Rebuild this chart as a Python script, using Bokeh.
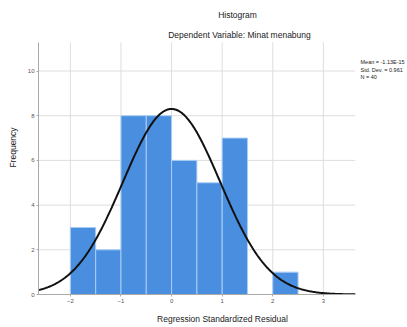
import numpy as np
from bokeh.plotting import figure
from bokeh.models import Label, FixedTicker, Range1d
from bokeh.embed import file_html
from bokeh.resources import INLINE

# Data
bin_left = [-2.0, -1.5, -1.0, -0.5, 0.0, 0.5, 1.0, 2.0]
counts = [3, 2, 8, 8, 6, 5, 7, 1]
bin_width = 0.5
mean = -1.13e-15
std_dev = 0.961
n_obs = 40
x_ticks = [-2, -1, 0, 1, 2, 3]
y_ticks = [0, 2, 4, 6, 8, 10]
title_main = "Histogram"
title_sub = "Dependent Variable: Minat menabung"
stats_lines = ["Mean = -1.13E-15", "Std. Dev. = 0.961", "N = 40"]

FONT = "Liberation Sans"
W, H = 406, 326
FL, FB = 38, 296          # frame left / bottom in page pixels
PX_X, PX_Y = 50.6, 22.5   # pixels per data unit
X0, XA = -2.63, 3.63      # plotted x extent (axis)
YA = 11.29                # plotted y extent (axis)
XE = X0 + (W - FL) / PX_X
YE = FB / PX_Y

p = figure(width=W, height=H, output_backend="svg", toolbar_location=None,
           x_range=Range1d(X0, XE), y_range=Range1d(0, YE),
           min_border_left=FL, min_border_right=0, min_border_top=0,
           min_border_bottom=H - FB)
p.outline_line_color = None
p.title.visible = False
p.xgrid.visible = False
p.ygrid.visible = False

# axes
for ax in (p.xaxis[0], p.yaxis[0]):
    ax.axis_line_color = "#aaaaaa"
    ax.major_tick_line_color = "#aaaaaa"
    ax.minor_tick_line_color = None
    ax.major_tick_out = 2
    ax.major_tick_in = 0
    ax.major_label_text_font = FONT
    ax.major_label_text_font_size = "6px"
    ax.major_label_text_color = "#555555"
    ax.major_label_standoff = 2
    ax.axis_label_text_font = FONT
    ax.axis_label_text_font_size = "8.5px"
    ax.axis_label_text_font_style = "normal"
    ax.axis_label_text_color = "#222222"
p.xaxis.ticker = FixedTicker(ticks=x_ticks)
p.yaxis.ticker = FixedTicker(ticks=y_ticks)
p.xaxis.bounds = (X0, XA)
p.yaxis.bounds = (0, YA)
p.xaxis.axis_label = "Regression Standardized Residual"
p.yaxis.axis_label = "Frequency"
p.xaxis.axis_label_standoff = 8
p.yaxis.axis_label_standoff = 7

# grid lines (drawn as segments so they stop at the plotted extent)
p.segment(x0=x_ticks, x1=x_ticks, y0=[0] * len(x_ticks), y1=[YA] * len(x_ticks),
          line_color="#dedede", line_width=1)
p.segment(x0=[X0] * len(y_ticks), x1=[XA] * len(y_ticks), y0=y_ticks, y1=y_ticks,
          line_color="#dedede", line_width=1)

# bars
lefts = np.array(bin_left)
p.quad(left=lefts, right=lefts + bin_width, bottom=0, top=counts,
       fill_color="#4a8ee0", line_color="#a9cdf5", line_width=1)

# fitted normal curve
xs = np.linspace(X0, XA, 300)
ys = n_obs * bin_width / (std_dev * np.sqrt(2 * np.pi)) * np.exp(-0.5 * ((xs - mean) / std_dev) ** 2)
p.line(xs, ys, line_color="#111111", line_width=2)


def lab(text, xpx, ypx, size, align="center", color="#222222"):
    p.add_layout(Label(x=X0 + (xpx - FL) / PX_X, y=(FB - ypx) / PX_Y,
                       text=text, text_font=FONT, text_font_size=size,
                       text_align=align, text_baseline="middle",
                       text_color=color))


lab(title_main, 237, 15, "8.5px")
lab(title_sub, 239, 35, "8.5px")
for i, s in enumerate(stats_lines):
    lab(s, 360, 62 + i * 7.5, "5.5px", align="left")

open("out.html", "w").write(file_html(p, INLINE))
